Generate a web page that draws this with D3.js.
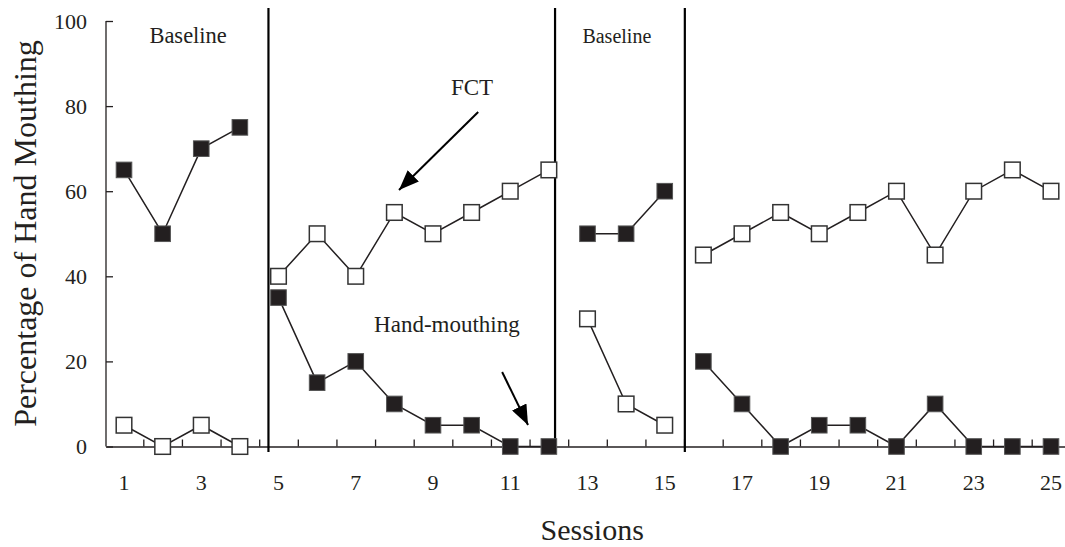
<!DOCTYPE html>
<html>
<head>
<meta charset="utf-8">
<script src="https://cdn.jsdelivr.net/npm/d3@7"></script>
<style>
  html, body { margin: 0; padding: 0; background: #fff; }
  svg { display: block; }
  svg text { font-family: "Liberation Serif", "Times New Roman", serif; }
</style>
</head>
<body>
<svg id="chart" width="1065" height="547"></svg>
<script>
// ---- data ----
const phases = [
  { sessions: [1, 2, 3, 4] },
  { sessions: [5, 6, 7, 8, 9, 10, 11, 12] },
  { sessions: [13, 14, 15] },
  { sessions: [16, 17, 18, 19, 20, 21, 22, 23, 24, 25] }
];
const handMouthing = [
  [65, 50, 70, 75],
  [35, 15, 20, 10, 5, 5, 0, 0],
  [50, 50, 60],
  [20, 10, 0, 5, 5, 0, 10, 0, 0, 0]
];
const fct = [
  [5, 0, 5, 0],
  [40, 50, 40, 55, 50, 55, 60, 65],
  [30, 10, 5],
  [45, 50, 55, 50, 55, 60, 45, 60, 65, 60]
];
const phaseChanges = [4.74, 12.16, 15.52];
const xTickLabels = [1, 3, 5, 7, 9, 11, 13, 15, 17, 19, 21, 23, 25];
const xTickMarks = d3.range(1.5, 25, 1);
const yTicks = [0, 20, 40, 60, 80, 100];
const phaseLabels = [
  { text: "Baseline", s: 2.66, v: 94.8, size: 22.5 },
  { text: "Baseline", s: 13.76, v: 94.8, size: 20 }
];
const annotations = [
  { text: "FCT", s: 10.01, v: 82.6, from: [10.17, 78.6], to: [8.12, 60.3] },
  { text: "Hand-mouthing", s: 9.36, v: 26.9, from: [10.79, 17.5], to: [11.46, 5.05] }
];

// ---- layout ----
const FONT = "'Liberation Serif', 'Times New Roman', serif";
const svg = d3.select("#chart");
const ink = "#231f20";
const x = d3.scaleLinear().domain([1, 25]).range([124, 1051]);
const y = d3.scaleLinear().domain([0, 100]).range([446.5, 21]);
const xStart = x.invert(106), xEnd = x.invert(1068);

// defs: arrowhead
svg.append("defs").append("marker")
  .attr("id", "arrow").attr("markerUnits", "userSpaceOnUse")
  .attr("viewBox", "0 0 20 16").attr("refX", 20).attr("refY", 8)
  .attr("markerWidth", 20).attr("markerHeight", 16).attr("orient", "auto")
  .append("path").attr("d", "M0,0 L20,8 L0,16 Z").attr("fill", "#000");

// y axis
const yAxis = d3.axisRight(y).tickValues(yTicks).tickSize(7).tickFormat("");
const gy = svg.append("g").attr("transform", "translate(106,0)").call(yAxis);
gy.select(".domain").attr("d", `M0,${y(100)}V${y(0)}`);
gy.selectAll("path, line").attr("stroke", ink).attr("stroke-width", 1.3);
svg.append("g").selectAll("text").data(yTicks).join("text")
  .attr("x", 87).attr("y", d => y(d)).attr("dy", "0.35em")
  .attr("font-family", FONT)
  .attr("text-anchor", "end").attr("font-size", 22).attr("fill", ink).text(d => d);

// x axis
const xScaleAxis = x.copy().domain([xStart, xEnd]).range([x(xStart), x(xEnd)]);
const xAxis = d3.axisTop(xScaleAxis).tickValues(xTickMarks).tickSize(7).tickSizeOuter(0).tickFormat("");
const gx = svg.append("g").attr("transform", `translate(0,${y(0)})`).call(xAxis);
gx.selectAll("path, line").attr("stroke", ink).attr("stroke-width", 1.3);
svg.append("g").selectAll("text").data(xTickLabels).join("text")
  .attr("x", d => x(d)).attr("y", y(0) + 43)
  .attr("font-family", FONT)
  .attr("text-anchor", "middle").attr("font-size", 22).attr("fill", ink).text(d => d);

// axis titles
svg.append("text").attr("x", x(13.12)).attr("y", 540)
  .attr("font-family", FONT)
  .attr("text-anchor", "middle").attr("font-size", 30).attr("fill", ink).text("Sessions");
svg.append("text").attr("transform", `translate(36,${(40 + 427) / 2}) rotate(-90)`)
  .attr("font-family", FONT)
  .attr("text-anchor", "middle").attr("font-size", 32).attr("fill", ink)
  .text("Percentage of Hand Mouthing");

// phase change lines
svg.append("g").selectAll("line").data(phaseChanges).join("line")
  .attr("x1", d => x(d)).attr("x2", d => x(d))
  .attr("y1", y(103.05)).attr("y2", y(-1.3))
  .attr("stroke", "#000").attr("stroke-width", 2.2);

// series lines
const line = d3.line().x(d => x(d[0])).y(d => y(d[1]));
function drawSeries(series, filled) {
  const g = svg.append("g");
  series.forEach((vals, i) => {
    const pts = phases[i].sessions.map((s, j) => [s, vals[j]]);
    g.append("path").attr("d", line(pts)).attr("fill", "none")
      .attr("stroke", ink).attr("stroke-width", 1.5);
    g.selectAll(null).data(pts).join("rect")
      .attr("x", d => x(d[0]) - 7.8).attr("y", d => y(d[1]) - 7.8)
      .attr("width", 15.6).attr("height", 15.6)
      .attr("fill", filled ? ink : "#fff")
      .attr("stroke", filled ? "#555" : "#333").attr("stroke-width", filled ? 1 : 1.5);
  });
}
drawSeries(fct, false);
drawSeries(handMouthing, true);

// phase labels
svg.append("g").selectAll("text").data(phaseLabels).join("text")
  .attr("x", d => x(d.s)).attr("y", d => y(d.v))
  .attr("font-family", FONT)
  .attr("text-anchor", "middle").attr("font-size", d => d.size).attr("fill", ink).text(d => d.text);

// annotations
const ga = svg.append("g");
ga.selectAll("text").data(annotations).join("text")
  .attr("x", d => x(d.s)).attr("y", d => y(d.v))
  .attr("font-family", FONT)
  .attr("text-anchor", "middle").attr("font-size", 23).attr("fill", ink).text(d => d.text);
ga.selectAll("line").data(annotations).join("line")
  .attr("x1", d => x(d.from[0])).attr("y1", d => y(d.from[1]))
  .attr("x2", d => x(d.to[0])).attr("y2", d => y(d.to[1]))
  .attr("stroke", "#000").attr("stroke-width", 2).attr("marker-end", "url(#arrow)");
</script>
</body>
</html>
